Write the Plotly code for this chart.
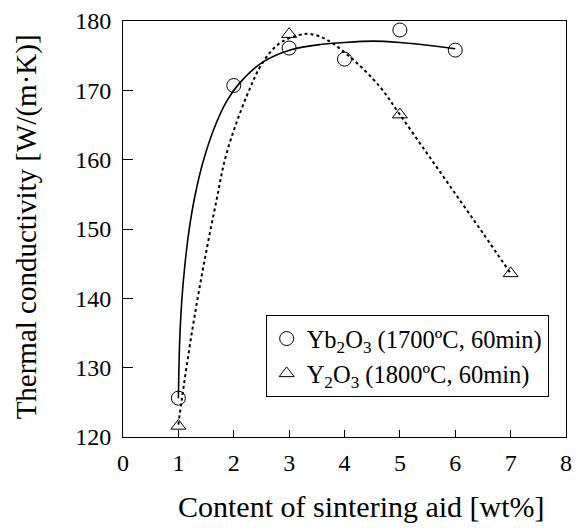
import plotly.graph_objects as go

# Measured points
yb_x = [1, 2, 3, 4, 5, 6]
yb_y = [125.6, 170.7, 176.1, 174.5, 178.7, 175.8]
y_x = [1, 3, 5, 7]
y_y = [121.6, 178.1, 166.5, 143.6]

# Fitted curves
yb_fit_x = [1.0, 1.02, 1.06, 1.12, 1.2, 1.3, 1.45, 1.65, 1.87, 2.1, 2.53, 3.05, 3.56, 4.0, 4.52, 5.0, 5.5, 6.0]
yb_fit_y = [125.6, 133.0, 139.5, 145.0, 150.2, 154.8, 159.8, 164.6, 168.4, 171.0, 174.1, 175.9, 176.6, 176.9, 177.1, 176.9, 176.5, 176.0]
y_fit_x = [1.0, 1.06, 1.24, 1.45, 1.69, 1.87, 2.23, 2.53, 2.83, 3.19, 3.4, 3.68, 4.16, 4.64, 5.0, 5.5, 6.0, 6.5, 7.0]
y_fit_y = [121.8, 125.3, 134.9, 144.5, 154.2, 160.9, 169.1, 174.1, 176.8, 178.0, 178.1, 177.3, 174.4, 170.5, 166.5, 160.8, 155.1, 149.4, 143.6]

x_ticks = [0, 1, 2, 3, 4, 5, 6, 7, 8]
y_ticks = [120, 130, 140, 150, 160, 170, 180]

x_title = "Content of sintering aid [wt%]"
y_title = "Thermal conductivity [W/(m·K)]"

FONT = "Liberation Serif"

fig = go.Figure()
fig.add_trace(go.Scatter(x=yb_fit_x, y=yb_fit_y, mode="lines", line=dict(color="black", width=1.6, shape="spline", smoothing=0.8),
                         showlegend=False, hoverinfo="skip"))
fig.add_trace(go.Scatter(x=y_fit_x, y=y_fit_y, mode="lines", line=dict(color="black", width=2.0, dash="dot", shape="spline"),
                         showlegend=False, hoverinfo="skip"))
fig.add_trace(go.Scatter(x=yb_x, y=yb_y, mode="markers", name="Yb<sub>2</sub>O<sub>3</sub> (1700ºC, 60min)",
                         marker=dict(symbol="circle-open", size=14, color="black", line=dict(width=1))))
fig.add_trace(go.Scatter(x=y_x, y=y_y, mode="markers", name="Y<sub>2</sub>O<sub>3</sub> (1800ºC, 60min)",
                         marker=dict(symbol="triangle-up-open", size=13, color="black", line=dict(width=1))))

fig.update_layout(
    width=580, height=528,
    margin=dict(l=115, r=22, t=13, b=99, autoexpand=False),
    paper_bgcolor="white", plot_bgcolor="white",
    font=dict(family=FONT, color="black", size=24),
    legend=dict(x=0.322, y=0.293, xanchor="left", yanchor="top",
                bordercolor="black", borderwidth=1, bgcolor="white",
                font=dict(family=FONT, size=24.5), tracegroupgap=0, itemwidth=30),
    annotations=[
        dict(text=x_title, xref="paper", yref="paper", x=0.5395, y=-0.166, xanchor="center", yanchor="middle",
             showarrow=False, font=dict(family=FONT, size=30)),
        dict(text=y_title, xref="paper", yref="paper", x=-0.217, y=0.506, xanchor="center", yanchor="middle",
             textangle=-90, showarrow=False, font=dict(family=FONT, size=29)),
    ],
)
fig.update_xaxes(range=[0, 8], tickvals=x_ticks, ticks="inside", ticklen=7, tickcolor="black",
                 showline=True, linecolor="black", linewidth=1, mirror=True, showgrid=False, zeroline=False,
                 automargin=False, tickfont=dict(family=FONT, size=24), ticklabelstandoff=4)
fig.update_yaxes(range=[120, 180], tickvals=y_ticks, ticks="inside", ticklen=10, tickcolor="black",
                 showline=True, linecolor="black", linewidth=1, mirror=True, showgrid=False, zeroline=False,
                 automargin=False, tickfont=dict(family=FONT, size=24), ticklabelstandoff=6)

fig.write_html("out.html")
